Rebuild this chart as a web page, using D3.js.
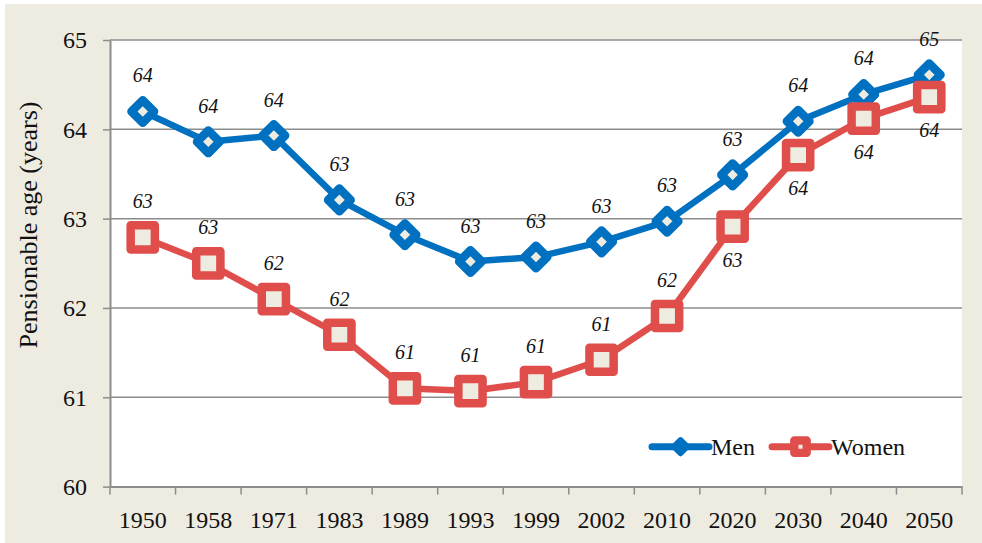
<!DOCTYPE html>
<html>
<head>
<meta charset="utf-8">
<script src="https://cdn.jsdelivr.net/npm/d3@7"></script>
<style>
  html, body { margin: 0; padding: 0; background: #ffffff; }
  svg { display: block; }
  text { font-family: "Liberation Serif", "Times New Roman", serif; }
</style>
</head>
<body>
<svg id="chart" width="982" height="543"></svg>
<script>
// ---- data ----
const categories = ["1950","1958","1971","1983","1989","1993","1999","2002","2010","2020","2030","2040","2050"];
const menValues   = [64.20, 63.86, 63.93, 63.21, 62.82, 62.52, 62.57, 62.74, 62.97, 63.49, 64.09, 64.39, 64.61];
const womenValues = [62.79, 62.50, 62.10, 61.70, 61.10, 61.07, 61.17, 61.42, 61.91, 62.91, 63.71, 64.12, 64.36];
const menLabels   = ["64","64","64","63","63","63","63","63","63","63","64","64","65"];
const womenLabels = ["63","63","62","62","61","61","61","61","62","63","64","64","64"];
const yTicks = [60, 61, 62, 63, 64, 65];
const seriesNames = ["Men", "Women"];
const yTitle = "Pensionable age (years)";

// ---- styles ----
const W = 982, H = 543;
const panelBg = "#eeece1";
const menColor = "#0070c0";
const womenColor = "#e04e4b";
const gridColor = "#8c8c8c";

const plot = { left: 110, right: 962, top: 40, bottom: 486.6 };

const svg = d3.select("#chart");

// panel background
svg.append("rect").attr("x", 5).attr("y", 4).attr("width", W - 5).attr("height", H - 4).attr("fill", panelBg);
// plot area
svg.append("rect").attr("x", plot.left).attr("y", plot.top)
  .attr("width", plot.right - plot.left).attr("height", plot.bottom - plot.top).attr("fill", "#ffffff");

const x = d3.scaleBand().domain(categories).range([plot.left, plot.right]).padding(0);
const y = d3.scaleLinear().domain([60, 65]).range([plot.bottom, plot.top]);
const cx = c => x(c) + x.bandwidth() / 2;

// gridlines
svg.append("g").selectAll("line").data(yTicks.filter(t => t > 60)).join("line")
  .attr("x1", plot.left).attr("x2", plot.right)
  .attr("y1", d => y(d)).attr("y2", d => y(d))
  .attr("stroke", gridColor).attr("stroke-width", 1.5);

// y axis
const yAxis = svg.append("g").attr("transform", `translate(${plot.left},0)`)
  .call(d3.axisLeft(y).tickValues(yTicks).tickFormat(d3.format("d")).tickSizeInner(7).tickSizeOuter(0).tickPadding(16));
yAxis.select(".domain").attr("stroke", gridColor).attr("stroke-width", 2);
yAxis.selectAll(".tick line").attr("stroke", gridColor).attr("stroke-width", 1.5);
yAxis.selectAll(".tick text").attr("font-size", 24).attr("fill", "#111")
  .attr("font-family", "Liberation Serif, serif").attr("dy", "0.33em");

// x axis
const xAxis = svg.append("g").attr("transform", `translate(0,${plot.bottom})`)
  .call(d3.axisBottom(x).tickSize(0).tickPadding(39));
xAxis.select(".domain").attr("stroke", gridColor).attr("stroke-width", 2);
xAxis.selectAll(".tick text").attr("font-size", 24).attr("fill", "#111")
  .attr("font-family", "Liberation Serif, serif").attr("dy", "0.1em");
// boundary ticks
const bounds = categories.map(c => x(c)).concat([plot.right]);
xAxis.selectAll("line.bound").data(bounds).join("line").attr("class", "bound")
  .attr("x1", d => d).attr("x2", d => d).attr("y1", 0).attr("y2", 8)
  .attr("stroke", gridColor).attr("stroke-width", 1.5);

// y title
svg.append("text")
  .attr("transform", `translate(37,225) rotate(-90)`)
  .attr("text-anchor", "middle").attr("font-size", 26).attr("fill", "#111")
  .text(yTitle);

// markers
const diamondPath = (d) => `M0,${-d}L${d},0L0,${d}L${-d},0Z`;
const squarePath = (s) => `M${-s},${-s}H${s}V${s}H${-s}Z`;

const line = d3.line().x(d => cx(d.c)).y(d => y(d.v));
const menData = categories.map((c, i) => ({ c, v: menValues[i], label: menLabels[i], i }));
const womenData = categories.map((c, i) => ({ c, v: womenValues[i], label: womenLabels[i], i }));

// men series
svg.append("path").datum(menData).attr("d", line)
  .attr("fill", "none").attr("stroke", menColor).attr("stroke-width", 6.5).attr("stroke-linejoin", "round");
svg.append("g").selectAll("path").data(menData).join("path")
  .attr("transform", d => `translate(${cx(d.c)},${y(d.v)})`)
  .attr("d", diamondPath(11.3))
  .attr("fill", panelBg).attr("stroke", menColor).attr("stroke-width", 8.5).attr("stroke-linejoin", "round");

// women series (on top)
svg.append("path").datum(womenData).attr("d", line)
  .attr("fill", "none").attr("stroke", womenColor).attr("stroke-width", 6.5).attr("stroke-linejoin", "round");
svg.append("g").selectAll("path").data(womenData).join("path")
  .attr("transform", d => `translate(${cx(d.c)},${y(d.v)})`)
  .attr("d", squarePath(12.1))
  .attr("fill", panelBg).attr("stroke", womenColor).attr("stroke-width", 8.5).attr("stroke-linejoin", "round");

// data labels
svg.append("g").selectAll("text").data(menData).join("text")
  .attr("x", d => cx(d.c)).attr("y", d => y(d.v) - 29)
  .attr("text-anchor", "middle").attr("font-size", 20).attr("font-style", "italic").attr("fill", "#111")
  .text(d => d.label);

svg.append("g").selectAll("text").data(womenData).join("text")
  .attr("x", d => cx(d.c))
  .attr("y", d => (menValues[d.i] - d.v < 0.8) ? y(d.v) + 40 : y(d.v) - 29)
  .attr("text-anchor", "middle").attr("font-size", 20).attr("font-style", "italic").attr("fill", "#111")
  .text(d => d.label);

// legend
const legend = svg.append("g");
const legendItems = [
  { name: seriesNames[0], color: menColor, x1: 652, x2: 709, tx: 711, shape: "diamond" },
  { name: seriesNames[1], color: womenColor, x1: 772, x2: 829, tx: 831, shape: "square" }
];
const ly = 446.7;
legendItems.forEach(it => {
  legend.append("line").attr("x1", it.x1).attr("x2", it.x2).attr("y1", ly).attr("y2", ly)
    .attr("stroke", it.color).attr("stroke-width", 7).attr("stroke-linecap", "round");
  const mx = (it.x1 + it.x2) / 2;
  if (it.shape === "diamond") {
    legend.append("path").attr("transform", `translate(${mx},${ly})`).attr("d", diamondPath(6.5))
      .attr("fill", it.color).attr("stroke", it.color).attr("stroke-width", 6).attr("stroke-linejoin", "round");
  } else {
    legend.append("path").attr("transform", `translate(${mx},${ly})`).attr("d", squarePath(6.2))
      .attr("fill", panelBg).attr("stroke", it.color).attr("stroke-width", 8.3).attr("stroke-linejoin", "round");
  }
  legend.append("text").attr("x", it.tx).attr("y", ly).attr("dy", "0.33em")
    .attr("font-size", 24).attr("fill", "#111").text(it.name);
});
</script>
</body>
</html>
